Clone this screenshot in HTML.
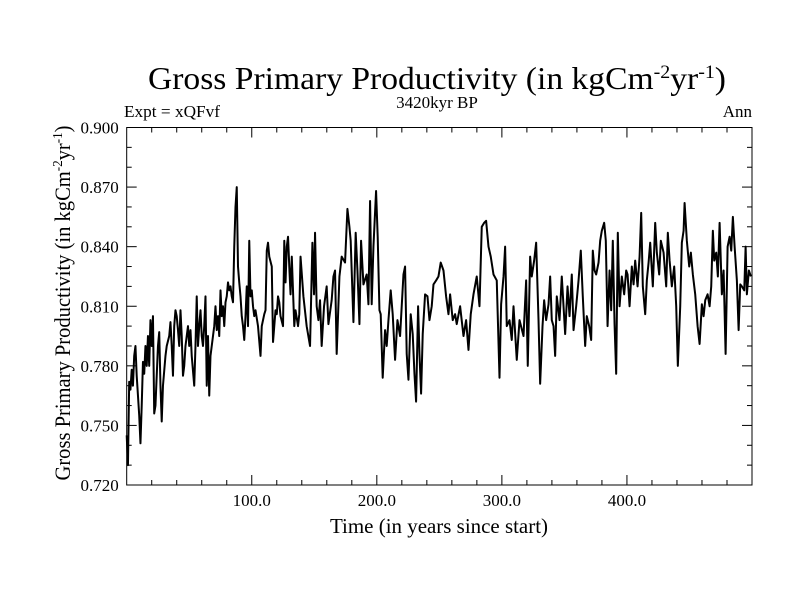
<!DOCTYPE html>
<html><head><meta charset="utf-8"><style>
html,body{margin:0;padding:0;background:#fff;}
svg{display:block;font-family:"Liberation Serif",serif;}
</style></head><body>
<svg id="chart" width="800" height="600" viewBox="0 0 800 600">
<text x="437" y="89" font-size="32" text-anchor="middle" textLength="578" lengthAdjust="spacingAndGlyphs">Gross Primary Productivity (in kgCm<tspan dy="-11" font-size="19">-2</tspan><tspan dy="11">yr</tspan><tspan dy="-11" font-size="19">-1</tspan><tspan dy="11">)</tspan></text>
<text x="124" y="117" font-size="17" textLength="96" lengthAdjust="spacingAndGlyphs">Expt = xQFvf</text>
<text x="437" y="108" font-size="17" text-anchor="middle">3420kyr BP</text>
<text x="752" y="117" font-size="17" text-anchor="end">Ann</text>
<text x="439" y="533" font-size="21" text-anchor="middle" textLength="218" lengthAdjust="spacingAndGlyphs">Time (in years since start)</text>
<text transform="translate(70,303) rotate(-90)" font-size="22" text-anchor="middle" textLength="355" lengthAdjust="spacingAndGlyphs">Gross Primary Productivity (in kgCm<tspan dy="-8" font-size="14">-2</tspan><tspan dy="8">yr</tspan><tspan dy="-8" font-size="14">-1</tspan><tspan dy="8">)</tspan></text>
<g id="axes"></g>
<path id="series" fill="none" stroke="#000" stroke-width="2" stroke-linejoin="round"></path>
<rect x="126.7" y="127.5" width="625.3" height="357.5" fill="none" stroke="#000" stroke-width="1"></rect>
</svg>
<script>
const years = [0,1,2,3,4,5,6,7,8,9,10,11,12,13,14,15,16,17,18,19,20,21,22,23,25,26,27,28,29,31,32,34,35,36,37,38,39,40,41,42,43,44,45,46,47,49,50,51,52,54,55,56,57,58,59,60,61,62,63,64,65,66,67,68,70,71,72,73,74,75,76,77,78,79,80,81,82,83,84,85,86,87,88,89,90,91,92,93,94,95,96,97,98,99,100,101,102,103,105,107,108,110,111,112,113,114,116,117,118,119,120,121,122,123,125,126,127,128,129,130,131,132,134,135,137,138,139,
141.3,143.9,146.6,148.5,149.8,150.6,151.9,153.3,154.6,155.9,157.8,159.9,161.3,163.9,165.3,166.6,167.9,170.1,171.9,174.6,176.5,178.1,179.1,181.3,183.1,184.5,186.1,187.4,189.3,191.9,193.3,194.6,195.9,197.3,199.4,200.7,202.1,203.1,204.7,206.6,207.9,209.3,211.1,212.7,214.6,216.5,218.6,221.3,222.6,223.9,225.3,227.1,228.7,230.1,231.4,233.0,234.1,235.4,236.7,238.6,240.5,242.1,243.9,245.3,247.4,249.3,251.1,253.3,255.4,257.3,258.6,260.7,262.6,263.9,266.6,269.3,271.4,273.3,275.1,277.3,279.9,282.1,283.9,285.8,287.4,289.3,291.1,293.3,295.9,298.1,299.4,301.3,302.6,303.9,306.1,307.9,309.3,311.9,314.1,
317.3,319.4,320.7,322.6,323.9,325.8,327.4,329.3,330.6,332.5,333.8,335.4,337.3,338.6,339.9,341.3,342.6,343.9,346.1,347.9,349.3,350.6,352.5,354.1,355.9,357.3,359.4,361.3,363.1,364.7,366.6,367.9,369.8,371.4,372.7,374.1,375.4,377.3,378.6,379.9,381.8,383.1,384.5,386.1,387.4,388.7,390.1,391.4,392.7,394.1,395.9,397.8,399.4,400.5,402.1,403.9,405.3,406.6,408.5,410.1,411.4,412.7,414.6,415.9,417.3,418.6,420.7,422.6,423.9,425.8,427.1,429.3,431.4,432.7,434.1,435.9,437.8,439.4,440.7,442.6,443.9,445.3,446.1,447.9,449.8,451.1,452.7,454.6,456.5,458.1,459.9,461.3,462.6,464.5,466.1,467.4,468.7,469.8,471.4,472.7,474.1,475.9,477.3,478.9,480.5,482.1,483.4,484.7,486.1,487.9,489.3,490.6,491.9,493.8,494.9,495.9,497.5,499.1];
const gpp = [.745,.730,.772,.768,.778,.770,.785,.790,.775,.765,.755,.741,.760,.782,.776,.790,.780,.795,.780,.803,.790,.805,.756,.760,.790,.797,.770,.752,.770,.785,.790,.795,.802,.790,.775,.800,.808,.805,.798,.790,.808,.795,.775,.780,.790,.800,.790,.798,.785,.770,.790,.815,.790,.800,.808,.795,.790,.800,.815,.770,.795,.765,.785,.790,.800,.810,.798,.805,.795,.818,.805,.810,.800,.812,.815,.822,.818,.820,.815,.812,.840,.860,.870,.830,.822,.815,.805,.800,.793,.805,.820,.800,.843,.815,.818,.810,.805,.808,.800,.785,.800,.806,.808,.838,.842,.835,.830,.792,.800,.808,.806,.815,.812,.805,.800,.843,.822,.840,.845,.830,.816,.835,.800,.808,.800,.806,.835,
.815,.800,.790,.842,.816,.847,.810,.803,.813,.790,.810,.820,.801,.813,.825,.828,.786,.825,.835,.832,.859,.850,.843,.802,.847,.828,.801,.843,.821,.826,.811,.863,.811,.840,.868,.845,.808,.806,.774,.798,.790,.803,.818,.806,.783,.803,.795,.826,.830,.786,.773,.806,.796,.776,.762,.810,.786,.766,.796,.816,.815,.803,.810,.821,.823,.825,.832,.828,.815,.806,.816,.803,.806,.801,.810,.795,.803,.788,.806,.816,.825,.810,.850,.852,.853,.840,.835,.826,.823,.774,.811,.825,.840,.800,.803,.793,.810,.783,.803,
.795,.823,.780,.835,.825,.833,.842,.803,.771,.800,.813,.803,.811,.825,.803,.800,.785,.815,.803,.825,.810,.796,.820,.805,.826,.798,.810,.823,.838,.815,.790,.805,.800,.793,.838,.828,.826,.832,.843,.848,.852,.843,.800,.828,.808,.843,.801,.776,.847,.810,.825,.816,.828,.826,.810,.830,.821,.833,.820,.835,.857,.820,.806,.823,.832,.842,.820,.852,.837,.826,.843,.837,.820,.847,.833,.820,.830,.810,.780,.810,.842,.848,.862,.843,.830,.837,.826,.816,.800,.791,.811,.805,.813,.816,.810,.820,.848,.833,.837,.825,.852,.816,.828,.786,.840,.845,.838,.855,.840,.823,.798,.821,.820,.818,.840,.816,.828,.825];
const xTickVals = [100,200,300,400];
const xTickLabels = ["100.0","200.0","300.0","400.0"];
const yTickVals = [0.72,0.75,0.78,0.81,0.84,0.87,0.90];
const yTickLabels = ["0.720","0.750","0.780","0.810","0.840","0.870","0.900"];

const X0=126.7,X1=752,Y0=485,Y1=127.5,XMIN=0,XMAX=500,YMIN=0.72,YMAX=0.90;
function xs(v){return X0+(v-XMIN)/(XMAX-XMIN)*(X1-X0);}
function ys(v){return Y0-(v-YMIN)/(YMAX-YMIN)*(Y0-Y1);}
const NS="http://www.w3.org/2000/svg";
const g=document.getElementById('axes');
function line(x1,y1,x2,y2,name){const l=document.createElementNS(NS,'line');l.setAttribute('x1',x1);l.setAttribute('y1',y1);l.setAttribute('x2',x2);l.setAttribute('y2',y2);l.setAttribute('stroke','#000');l.setAttribute('stroke-width','1');


g.appendChild(l);}
function text(x,y,s,anchor,name){const t=document.createElementNS(NS,'text');t.setAttribute('x',x);t.setAttribute('y',y);t.setAttribute('font-size','17');t.setAttribute('text-anchor',anchor);t.textContent=s;


g.appendChild(t);}
for(let v=20;v<XMAX;v+=20){const x=xs(v);const major=xTickVals.includes(v);const L=major?10:5;line(x,Y0,x,Y0-L,'x-tick');line(x,Y1,x,Y1+L,'x-tick-top');}
xTickVals.forEach((v,i)=>text(xs(v),506,xTickLabels[i],'middle','x-tick-label'));
for(let k=0;k<=18;k++){const v=YMIN+k*0.01;const y=ys(v);const major=k%3===0;const L=major?10:5;line(X0,y,X0+L,y,'y-tick');line(X1,y,X1-L,y,'y-tick-right');}
yTickVals.forEach((v,i)=>text(X0-8,ys(v)+6,yTickLabels[i],'end','y-tick-label'));
let d='';years.forEach((yr,i)=>{d+=(i?'L':'M')+xs(yr).toFixed(2)+' '+ys(gpp[i]).toFixed(2);});
document.getElementById('series').setAttribute('d',d);
</script>
</body></html>
